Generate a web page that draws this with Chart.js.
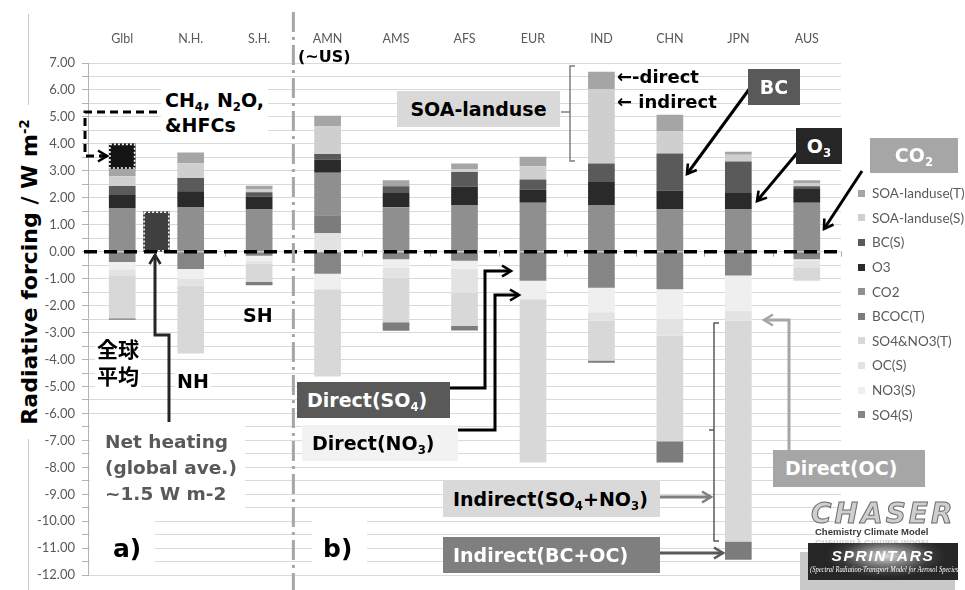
<!DOCTYPE html>
<html>
<head>
<meta charset="utf-8">
<title>Radiative forcing by region</title>
<script src="https://cdn.jsdelivr.net/npm/chart.js@4.4.1/dist/chart.umd.min.js"></script>
<style>
  html, body { margin:0; padding:0; background:#ffffff; }
  #stage { position:relative; width:965px; height:590px; overflow:hidden; font-family:"DejaVu Sans", sans-serif; }
  #chart { position:absolute; left:0; top:0; }
  #arrows { position:absolute; left:0; top:0; }
  .t { position:absolute; font-weight:bold; white-space:nowrap; line-height:1; color:#000; }
  .box { position:absolute; font-weight:bold; white-space:nowrap; box-sizing:border-box; font-size:19px; }
  .wb { position:absolute; background:#fff; }
  sub { font-size:0.62em; vertical-align:baseline; position:relative; top:0.32em; line-height:0; }
  sup { font-size:0.6em; vertical-align:baseline; position:relative; top:-0.6em; line-height:0; }
  #vline { position:absolute; left:28px; top:14px; width:1px; height:576px; background:#c8c8c8; }
  #ytitle { position:absolute; left:-137px; top:257px; width:334px; height:30px; line-height:30px; text-align:center;
            transform:rotate(-90deg); font-weight:bold; font-size:22px; background:#fff; color:#000; white-space:nowrap; }
  #legend { position:absolute; left:858px; top:181px; font-family:Lato, sans-serif; font-size:13.5px; color:#595959; }
  #legend div { height:24.6px; display:flex; align-items:center; white-space:nowrap; }
  #legend .sw { display:inline-block; width:7px; height:7px; margin-right:7px; }
  #chaser { position:absolute; left:811px; top:500px; font-style:italic; font-weight:bold; font-size:28px; letter-spacing:3px;
            color:#cfcfcf; -webkit-text-stroke:1px #6a6a6a; line-height:1; white-space:nowrap; }
  .ccm { position:absolute; left:815px; font-family:"Liberation Sans", sans-serif; font-weight:bold; font-size:9.5px; line-height:1; white-space:nowrap; }
  #sprShadow { position:absolute; left:800px; top:552px; width:155px; height:38px; background:#c9c9c9; }
  #spr { position:absolute; left:808px; top:543px; width:150px; height:37px; overflow:hidden;
         background:radial-gradient(ellipse 60px 22px at 52% 35%, #d8d8d8 0%, #8a8a8a 35%, #3a3a3a 75%, #262626 100%); }
  #spr .name { position:absolute; left:0; width:150px; top:5px; text-align:center; font-family:"Liberation Sans", sans-serif;
               font-style:italic; font-weight:bold; font-size:15.5px; letter-spacing:1.6px; color:#fff; line-height:1; }
  #spr .sub2 { position:absolute; left:-6px; width:162px; top:24px; text-align:center; font-family:"Liberation Serif", serif;
               font-style:italic; font-size:7.2px; color:#fff; line-height:1; white-space:nowrap; transform:scaleX(0.9); }
</style>
</head>
<body>
<div id="stage">
  <canvas id="chart" width="965" height="590"></canvas>
  <div id="vline"></div>
  <div id="ytitle">Radiative forcing / W m<sup>-2</sup></div>

  <svg id="arrows" width="965" height="590" viewBox="0 0 965 590">
    <defs>
      <marker id="hK" markerUnits="userSpaceOnUse" markerWidth="14" markerHeight="14" refX="11" refY="7" orient="auto">
        <path d="M2,1.5 L11,7 L2,12.5" fill="none" stroke="#000" stroke-width="2.6"/>
      </marker>
      <marker id="hD" markerUnits="userSpaceOnUse" markerWidth="14" markerHeight="14" refX="11" refY="7" orient="auto">
        <path d="M2,1.5 L11,7 L2,12.5" fill="none" stroke="#262626" stroke-width="2.6"/>
      </marker>
      <marker id="hG" markerUnits="userSpaceOnUse" markerWidth="14" markerHeight="14" refX="11" refY="7" orient="auto">
        <path d="M2,1.5 L11,7 L2,12.5" fill="none" stroke="#7f7f7f" stroke-width="2.6"/>
      </marker>
      <marker id="hM" markerUnits="userSpaceOnUse" markerWidth="14" markerHeight="14" refX="11" refY="7" orient="auto">
        <path d="M2,1.5 L11,7 L2,12.5" fill="none" stroke="#595959" stroke-width="2.6"/>
      </marker>
      <marker id="hL" markerUnits="userSpaceOnUse" markerWidth="14" markerHeight="14" refX="11" refY="7" orient="auto">
        <path d="M2,1.5 L11,7 L2,12.5" fill="none" stroke="#a6a6a6" stroke-width="2.6"/>
      </marker>
    </defs>
    <!-- other greenhouse gases pointer -->
    <path d="M157,112 H85 V156 H105" fill="none" stroke="#000" stroke-width="3" stroke-dasharray="8,5"/>
    <path d="M100,156 H107" fill="none" stroke="#000" stroke-width="3" marker-end="url(#hK)"/>
    <!-- net heating pointer -->
    <path d="M169,422 V335 H155 V255" fill="none" stroke="#262626" stroke-width="3" marker-end="url(#hD)"/>
    <!-- SOA bracket on IND -->
    <path d="M575,66 H570 V161 H575 M570,112 H561" fill="none" stroke="#7f7f7f" stroke-width="1.5"/>
    <!-- species pointers -->
    <line x1="753" y1="84" x2="687" y2="174" stroke="#000" stroke-width="3" marker-end="url(#hK)"/>
    <line x1="798" y1="152" x2="757" y2="201" stroke="#000" stroke-width="3" marker-end="url(#hK)"/>
    <line x1="862" y1="171" x2="824" y2="229" stroke="#000" stroke-width="3" marker-end="url(#hK)"/>
    <path d="M450,388 H485 V271 H511" fill="none" stroke="#000" stroke-width="3" marker-end="url(#hK)"/>
    <path d="M458,430 H495 V295 H519" fill="none" stroke="#000" stroke-width="3" marker-end="url(#hK)"/>
    <path d="M660,497 H711" fill="none" stroke="#7f7f7f" stroke-width="3" marker-end="url(#hG)"/>
    <path d="M660,553 H723" fill="none" stroke="#595959" stroke-width="3" marker-end="url(#hM)"/>
    <path d="M789,450 V320 H764" fill="none" stroke="#a6a6a6" stroke-width="3" marker-end="url(#hL)"/>
    <!-- indirect bracket on JPN -->
    <path d="M719,323 H714 V541 H719 M714,430 H709" fill="none" stroke="#595959" stroke-width="1.5"/>
  </svg>

  <!-- panel a) notes -->
  <div class="t" style="left:161px;top:86px;padding:2px 4px;background:#fff;font-size:19px;line-height:25px;">CH<sub>4</sub>, N<sub>2</sub>O,<br>&amp;HFCs</div>
  <div class="t" style="left:95px;top:335px;padding:0 2px;background:#fff;font-family:'Noto Sans CJK JP',sans-serif;font-size:21px;line-height:27px;">全球<br>平均</div>
  <div class="t" style="left:175px;top:371px;padding:1px 2px;background:#fff;font-size:19px;">NH</div>
  <div class="t" style="left:243px;top:306px;font-size:19px;">SH</div>
  <div class="wb" style="left:90px;top:425px;width:155px;height:90px;"></div>
  <div class="t" style="left:105px;top:429px;font-size:18.5px;line-height:26px;color:#595959;">Net heating<br>(global ave.)<br>~1.5 W m-2</div>
  <div class="wb" style="left:90px;top:521px;width:65px;height:49px;"></div>
  <div class="t" style="left:113px;top:536px;font-size:25px;">a)</div>

  <!-- panel b) notes -->
  <div class="t" style="left:298px;top:49px;font-size:16px;">(~US)</div>
  <div class="wb" style="left:312px;top:521px;width:55px;height:49px;"></div>
  <div class="t" style="left:323px;top:536px;font-size:25px;">b)</div>
  <div class="box" style="left:397px;top:91px;width:163px;height:36px;line-height:36px;text-align:center;background:#d9d9d9;color:#000;">SOA-landuse</div>
  <div class="t" style="left:617px;top:68px;font-size:18px;">←-direct</div>
  <div class="t" style="left:617px;top:93px;font-size:18px;">← indirect</div>
  <div class="box" style="left:748px;top:69px;width:52px;height:36px;line-height:36px;text-align:center;background:#595959;color:#fff;">BC</div>
  <div class="box" style="left:796px;top:128px;width:46px;height:36px;line-height:36px;text-align:center;background:#262626;color:#fff;">O<sub>3</sub></div>
  <div class="box" style="left:870px;top:138px;width:88px;height:35px;line-height:35px;text-align:center;background:#a6a6a6;color:#fff;">CO<sub>2</sub></div>
  <div class="box" style="left:297px;top:382px;width:153px;height:36px;line-height:36px;padding-left:10px;background:#595959;color:#fff;">Direct(SO<sub>4</sub>)</div>
  <div class="box" style="left:302px;top:425px;width:156px;height:36px;line-height:36px;padding-left:10px;background:#f2f2f2;color:#000;">Direct(NO<sub>3</sub>)</div>
  <div class="box" style="left:443px;top:481px;width:217px;height:36px;line-height:36px;padding-left:10px;background:#d9d9d9;color:#000;">Indirect(SO<sub>4</sub>+NO<sub>3</sub>)</div>
  <div class="box" style="left:443px;top:537px;width:217px;height:36px;line-height:36px;padding-left:10px;background:#7f7f7f;color:#fff;">Indirect(BC+OC)</div>
  <div class="box" style="left:773px;top:450px;width:152px;height:37px;line-height:37px;padding-left:12px;background:#a6a6a6;color:#fff;">Direct(OC)</div>

  <!-- model logos -->
  <div id="chaser">CHASER</div>
  <div class="ccm" style="top:538px;color:#cfcfcf;transform:scaleY(-1);">Chemistry Climate Model</div>
  <div class="ccm" style="top:527px;color:#3a3a3a;">Chemistry Climate Model</div>
  <div id="sprShadow"></div>
  <div id="spr">
    <div class="name">SPRINTARS</div>
    <div class="sub2">(Spectral Radiation-Transport Model for Aerosol Species)</div>
  </div>

  <div id="legend"></div>
</div>

<script>
// Regions (x axis, drawn along the top)
const categories = ['Glbl', 'N.H.', 'S.H.', 'AMN', 'AMS', 'AFS', 'EUR', 'IND', 'CHN', 'JPN', 'AUS'];

// Radiative forcing components, W m-2, one value per region
const so4S    = [-0.38, -0.64, -0.15, -0.82, -0.28, -0.34, -1.08, -1.34, -1.39, -0.88, -0.28];
const no3S    = [-0.27, -0.37, -0.20, -0.57, -0.31, -0.29, -0.68, -0.91, -1.11, -1.31, -0.05];
const ocS     = [-0.25, -0.25, -0.10,  0.68, -0.37, -0.90,  0.00, -0.31, -0.62, -0.37, -0.25];
const so4no3T = [-1.57, -2.52, -0.67, -3.24, -1.66, -1.22, -6.06, -1.48, -3.91, -8.19, -0.50];
const bcocT   = [-0.05,  0.00, -0.12,  0.67, -0.31, -0.17,  0.00, -0.08, -0.79, -0.68,  0.00];
const co2     = [ 1.60,  1.64,  1.57,  1.58,  1.65,  1.73,  1.82,  1.73,  1.57,  1.57,  1.82];
const o3      = [ 0.50,  0.60,  0.47,  0.49,  0.53,  0.69,  0.49,  0.86,  0.70,  0.61,  0.51];
const bcS     = [ 0.34,  0.49,  0.17,  0.20,  0.25,  0.54,  0.37,  0.68,  1.37,  1.17,  0.10];
const soaS    = [ 0.36,  0.55,  0.12,  1.02,  0.00,  0.11,  0.49,  2.76,  0.82,  0.25,  0.12];
const soaT    = [ 0.27,  0.40,  0.12,  0.40,  0.22,  0.20,  0.35,  0.65,  0.62,  0.11,  0.10];

// Global-mean extras: CH4, N2O & HFCs on top of the Glbl column, and the net total
const ghgOther = 0.95;
const netHeating = 1.5;

// Value axis
const yMin = -12;
const yMax = 7;
const yStep = 0.5;

// Stack order: first entry sits next to zero
const seriesNames  = ['SO4(S)', 'NO3(S)', 'OC(S)', 'SO4&NO3(T)', 'BCOC(T)', 'CO2', 'O3', 'BC(S)', 'SOA-landuse(S)', 'SOA-landuse(T)'];
const seriesValues = [so4S, no3S, ocS, so4no3T, bcocT, co2, o3, bcS, soaS, soaT];
const seriesColors = ['#858585', '#efefef', '#e3e3e3', '#d8d8d8', '#7c7c7c', '#8f8f8f', '#2a2a2a', '#5a5a5a', '#cfcfcf', '#a5a5a5'];

const overlayMarks = {
  id: 'overlayMarks',
  afterDatasetsDraw(chart) {
    const { ctx, chartArea: a, scales: { x, y } } = chart;
    const y0 = y.getPixelForValue(0);
    const barW = chart.getDatasetMeta(0).data[0].width;
    ctx.save();

    // dotted-outline boxes for the global extras
    const drawBox = (cx, v0, v1, fill) => {
      const l = cx - barW / 2;
      const t = y.getPixelForValue(v1);
      const b = y.getPixelForValue(v0);
      ctx.setLineDash([]);
      ctx.fillStyle = fill;
      ctx.fillRect(l, t, barW, b - t);
      ctx.strokeStyle = '#ffffff';
      ctx.lineWidth = 1.6;
      ctx.setLineDash([2, 2]);
      ctx.strokeRect(l + 1, t + 1, barW - 2, b - t - 2);
    };
    const glblTop = seriesValues.reduce((s, arr) => s + Math.max(0, arr[0]), 0);
    drawBox(x.getPixelForValue(0), glblTop, glblTop + ghgOther, '#141414');
    drawBox(x.getPixelForValue(0.5), 0, netHeating, '#3f3f3f');

    // category tick marks under the zero line
    ctx.setLineDash([]);
    ctx.strokeStyle = '#a6a6a6';
    ctx.lineWidth = 1;
    for (let i = 0; i <= categories.length; i++) {
      const px = Math.round(x.getPixelForValue(i - 0.5)) + 0.5;
      ctx.beginPath(); ctx.moveTo(px, y0); ctx.lineTo(px, y0 + 5); ctx.stroke();
    }

    // zero line
    ctx.strokeStyle = '#000000';
    ctx.lineWidth = 3.5;
    ctx.setLineDash([13, 7]);
    ctx.beginPath(); ctx.moveTo(a.left - 4, y0); ctx.lineTo(a.right, y0); ctx.stroke();

    // separator between hemispheric means and regions
    const sx = x.getPixelForValue(2.5);
    ctx.strokeStyle = '#a6a6a6';
    ctx.lineWidth = 3;
    ctx.setLineDash([20, 5, 3, 5]);
    ctx.beginPath(); ctx.moveTo(sx, 12); ctx.lineTo(sx, 590); ctx.stroke();

    ctx.restore();
  }
};

const chart = new Chart(document.getElementById('chart'), {
  type: 'bar',
  data: {
    labels: categories,
    datasets: seriesValues.map((vals, k) => ({
      label: seriesNames[k],
      data: vals,
      backgroundColor: seriesColors[k],
      borderWidth: 0,
      barPercentage: 0.39,
      categoryPercentage: 1.0
    }))
  },
  options: {
    responsive: false,
    devicePixelRatio: 1,
    animation: false,
    layout: { padding: { left: 0, right: 124, top: 0, bottom: 13 } },
    plugins: { legend: { display: false }, tooltip: { enabled: false } },
    scales: {
      x: {
        stacked: true,
        position: 'top',
        grid: { display: false, drawTicks: false },
        border: { display: false },
        ticks: { color: '#595959', font: { family: 'Lato', size: 12.5 }, padding: 16.5, maxRotation: 0, autoSkip: false },
        afterFit: s => { s.height = 63; }
      },
      y: {
        stacked: true,
        min: yMin,
        max: yMax,
        grid: { color: '#d9d9d9', lineWidth: 1, tickLength: 6, tickColor: '#b3b3b3' },
        border: { color: '#b3b3b3', width: 1 },
        ticks: {
          stepSize: yStep,
          autoSkip: false,
          padding: 7,
          color: '#595959',
          font: { family: 'Lato', size: 13 },
          callback: v => Number.isInteger(v) ? v.toFixed(2) : ''
        },
        afterFit: s => { s.width = 88; }
      }
    }
  },
  plugins: [overlayMarks]
});

// legend, top entry first
const legendEl = document.getElementById('legend');
chart.data.datasets.slice().reverse().forEach(ds => {
  const row = document.createElement('div');
  const sw = document.createElement('span');
  sw.className = 'sw';
  sw.style.background = ds.backgroundColor;
  row.appendChild(sw);
  row.appendChild(document.createTextNode(ds.label));
  legendEl.appendChild(row);
});
</script>
</body>
</html>
